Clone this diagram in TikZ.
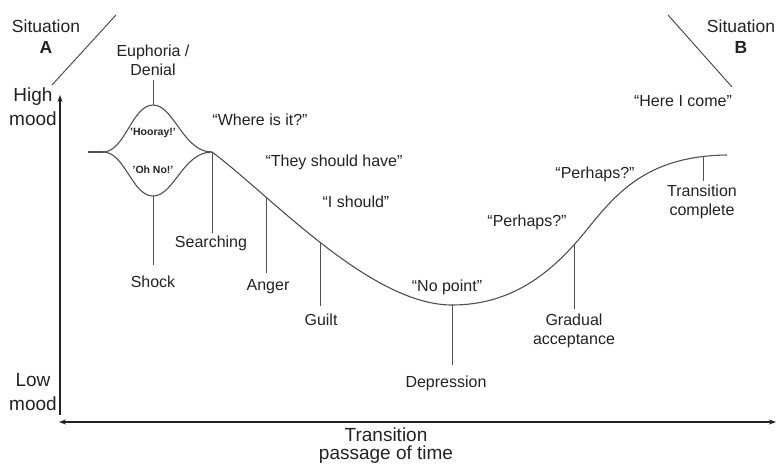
\documentclass[tikz,border=0pt]{standalone}
\usepackage{fontspec}
\setmainfont{Liberation Sans}
\usetikzlibrary{arrows.meta}
\definecolor{inkc}{HTML}{222222}
\definecolor{linec}{HTML}{505050}
\tikzset{
  lbl/.style={inner sep=2pt, text=inkc, font=\fontsize{16}{18.5}\selectfont, align=center, anchor=base},
  moodlbl/.style={lbl, font=\fontsize{19}{24}\selectfont},
  biglbl/.style={lbl, font=\fontsize{19}{18}\selectfont},
  sitlbl/.style={lbl, font=\fontsize{17.5}{20.5}\selectfont},
  smalllbl/.style={inner sep=1pt, text=inkc, font=\fontsize{10.5}{12}\selectfont\bfseries},
  curve/.style={draw=linec, line width=1.1pt},
  tick/.style={draw=linec, line width=1pt},
  axis/.style={draw=inkc, line width=1.3pt},
}
\begin{document}
\begin{tikzpicture}[x=1pt,y=-1pt]
\useasboundingbox (0,0) rectangle (777,464);
% axes
\coordinate (ybot) at (60,415);
\coordinate (ytop) at (60,95);
\coordinate (xl) at (59,422);
\coordinate (xr) at (776,422);
\draw[axis,-{Stealth[length=7pt,width=5pt]}] (ybot) -- (ytop);
\draw[axis,{Stealth[length=7pt,width=5pt]}-{Stealth[length=7pt,width=5pt]}] (xl) -- (xr);
% axis labels (base = baseline of last line)
\node[moodlbl] (high) at (33,125) {High\\mood};
\node[moodlbl] (low) at (33,410) {Low\\mood};
\node[biglbl] (trans) at (386,459) {Transition\\passage of time};
% situations
\node[sitlbl] (sitA) at (46,53) {Situation\\\textbf{A}};
\node[sitlbl] (sitB) at (741,53) {Situation\\\textbf{B}};
\coordinate (sa1) at (52,85);
\coordinate (sa2) at (116,15);
\coordinate (sb1) at (668,15);
\coordinate (sb2) at (732,87);
\draw[tick] (sa1) -- (sa2);
\draw[tick] (sb1) -- (sb2);
% curve
\coordinate (start) at (88,152);
\coordinate (split) at (103,152);
\coordinate (euph) at (153,105);
\coordinate (shock) at (153,196);
\coordinate (search) at (212,152);
\coordinate (depr) at (452,305);
\coordinate (mid) at (585,232);
\coordinate (fin) at (727,155);
\draw[curve] (start) -- (split);
\draw[curve] (split) .. controls (125,152) and (132,105) .. (euph)
                     .. controls (174,105) and (183,152) .. (search);
\draw[curve] (split) .. controls (125,152) and (132,196) .. (shock)
                     .. controls (174,196) and (183,152) .. (search);
\draw[curve] (search) .. controls (270,195) and (370,305) .. coordinate[pos=0.27] (anger) coordinate[pos=0.49] (guilt) (depr);
\draw[curve] (depr) .. controls (510,305) and (550,275) .. coordinate[pos=0.9] (grad) (mid);
\draw[curve] (mid) .. controls (615,195) and (645,156) .. coordinate[pos=0.9] (done) (fin);
% stage labels
\node[lbl] (euphlbl) at (153,75) {Euphoria /\\Denial};
\node[lbl] (shocklbl) at (153,287) {Shock};
\node[lbl] (searchlbl) at (211,247) {Searching};
\node[lbl] (angerlbl) at (268,290) {Anger};
\node[lbl] (guiltlbl) at (321,325) {Guilt};
\node[lbl] (deprlbl) at (446,387) {Depression};
\node[lbl] (gradlbl) at (574,344) {Gradual\\acceptance};
\node[lbl] (donelbl) at (702,215) {Transition\\complete};
% ticks
\draw[tick, shorten >=3pt] (euph) -- (euph |- euphlbl.south);
\draw[tick, shorten >=8pt] (shock) -- (shock |- shocklbl.north);
\draw[tick] (search) -- (search |- searchlbl.north);
\draw[tick, shorten >=4pt] (anger) -- (anger |- angerlbl.north);
\draw[tick, shorten >=5pt] (guilt) -- (guilt |- guiltlbl.north);
\draw[tick, shorten >=8pt] (depr) -- (depr |- deprlbl.north);
\draw[tick, shorten >=3pt] (grad) -- (grad |- gradlbl.north);
\draw[tick, shorten >=2pt] (done) -- (done |- donelbl.north);
% quotes
\node[smalllbl] (hooray) at (153,133) {'Hooray!'};
\node[smalllbl] (ohno) at (153,170) {'Oh No!'};
\node[lbl] (q1) at (260,125) {“Where is it?”};
\node[lbl] (q2) at (334,166) {“They should have”};
\node[lbl] (q3) at (356,207) {“I should”};
\node[lbl] (q4) at (447,291) {“No point”};
\node[lbl] (q5) at (527,226) {“Perhaps?”};
\node[lbl] (q6) at (595,178) {“Perhaps?”};
\node[lbl] (q7) at (683,106) {“Here I come”};
\end{tikzpicture}
\end{document}
